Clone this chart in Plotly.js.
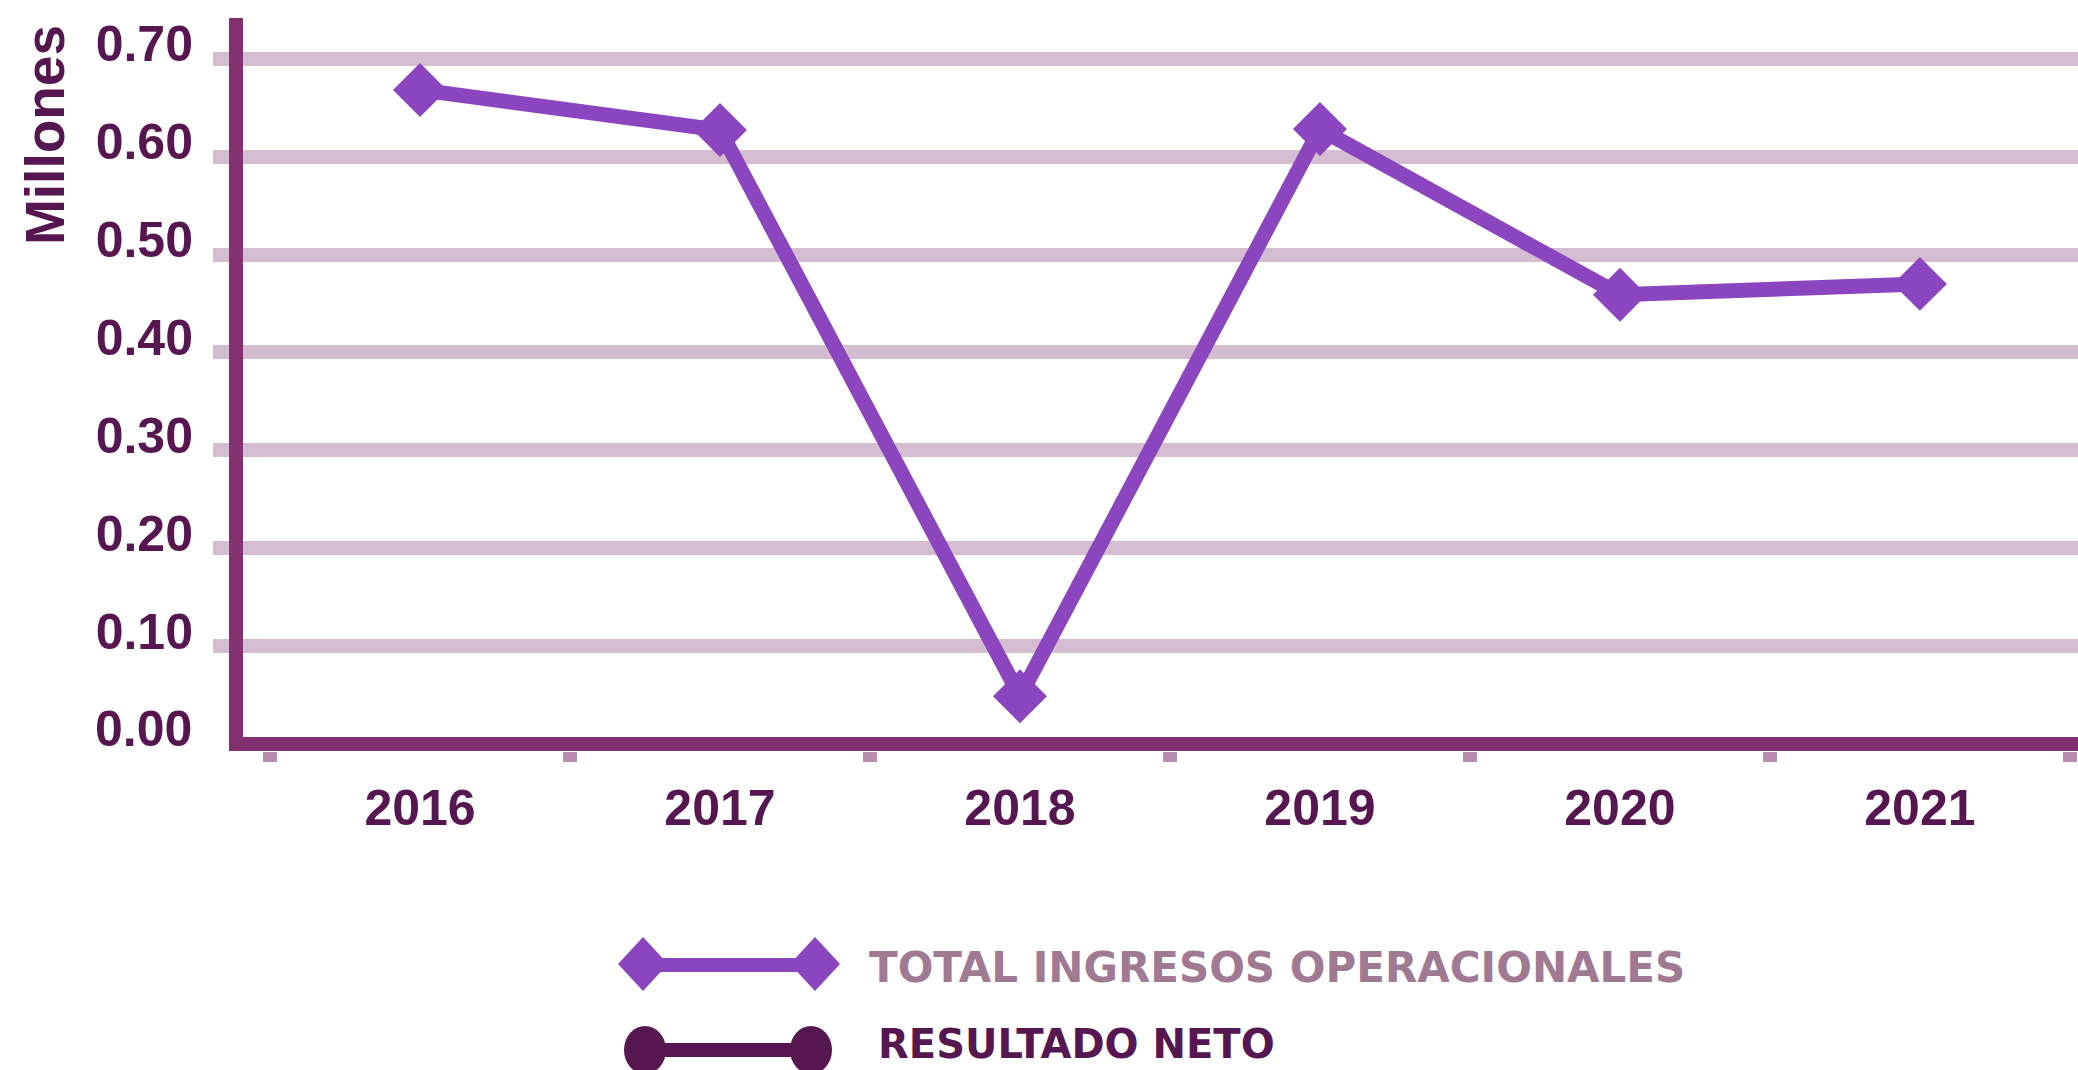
<!DOCTYPE html>
<html>
<head>
<meta charset="utf-8">
<script src="https://cdn.plot.ly/plotly-3.0.1.min.js"></script>
<style>html,body{margin:0;padding:0;background:#fff;}#chart{width:2078px;height:1070px;}</style>
</head>
<body>
<div id="chart"></div>
<script>
// ---- data ----
const years = ['2016', '2017', '2018', '2019', '2020', '2021'];
const totalIngresos = [0.668, 0.627, 0.049, 0.628, 0.459, 0.470];
const seriesNames = ['TOTAL INGRESOS OPERACIONALES', 'RESULTADO NETO'];
const yTickVals = [0.1, 0.2, 0.3, 0.4, 0.5, 0.6, 0.7];
const yTickText = ['0.10', '0.20', '0.30', '0.40', '0.50', '0.60', '0.70'];
const yZeroLabel = '0.00';
const yTitle = 'Millones';

// ---- styling ----
const W = 2078, H = 1070;
const M = {l: 243, r: 0, t: 18, b: 319};
const PW = W - M.l - M.r, PH = H - M.t - M.b;
const px2x = p => (p - M.l) / PW;
const px2y = p => (H - M.b - p) / PH;

const cSeries = '#8b46bf', cNeto = '#56164f', cAxis = '#833070', cGrid = '#d4bdd0',
      cTick = '#b98db0', cLabel = '#56164f', cLegend1 = '#a07a93';
const tickFont = {family: 'Liberation Sans, Arial, sans-serif', size: 50, color: cLabel, weight: 700};
const legFont = {family: 'DejaVu Sans, sans-serif', size: 42, weight: 700};

const traces = [{
  type: 'scatter', mode: 'lines+markers', name: seriesNames[0],
  x: years, y: totalIngresos,
  line: {color: cSeries, width: 15},
  marker: {symbol: 'diamond', size: 41.5, color: cSeries},
  cliponaxis: false, showlegend: false, hoverinfo: 'x+y'
}];

function diamond(cx, cy, hw, hh, color) {
  return {type: 'path', xref: 'paper', yref: 'paper', xsizemode: 'pixel', ysizemode: 'pixel',
    xanchor: px2x(cx), yanchor: px2y(cy),
    path: `M ${-hw} 0 L 0 ${hh} L ${hw} 0 L 0 ${-hh} Z`,
    fillcolor: color, line: {width: 0}, layer: 'above'};
}
function dot(cx, cy, rx, ry, color) {
  return {type: 'circle', xref: 'paper', yref: 'paper', xsizemode: 'pixel', ysizemode: 'pixel',
    xanchor: px2x(cx), yanchor: px2y(cy), x0: -rx, x1: rx, y0: -ry, y1: ry,
    fillcolor: color, line: {width: 0}, layer: 'above'};
}
function seg(x0, x1, y, color) {
  return {type: 'line', xref: 'paper', yref: 'paper', x0: px2x(x0), x1: px2x(x1), y0: px2y(y), y1: px2y(y),
    line: {color: color, width: 14}, layer: 'above'};
}

const shapes = [
  seg(643, 815, 965, cSeries), diamond(643, 964, 25, 27, cSeries), diamond(815, 964, 25, 27, cSeries),
  seg(645, 811, 1050, cNeto), dot(645, 1050, 21, 24, cNeto), dot(811, 1050, 21, 24, cNeto)
];

const annotations = [
  {text: seriesNames[0], xref: 'paper', yref: 'paper', x: px2x(867), y: px2y(967), xanchor: 'left', yanchor: 'middle',
   showarrow: false, font: Object.assign({}, legFont, {color: cLegend1})},
  {text: seriesNames[1], xref: 'paper', yref: 'paper', x: px2x(877), y: px2y(1044), xanchor: 'left', yanchor: 'middle',
   showarrow: false, borderpad: 0, font: Object.assign({}, legFont, {size: 40, color: cNeto})},
  {text: yTitle, xref: 'paper', yref: 'paper', x: px2x(45), y: px2y(135), xanchor: 'center', yanchor: 'middle',
   textangle: -90, showarrow: false, font: {family: 'Liberation Sans, Arial, sans-serif', size: 55, color: cLabel, weight: 700}},
  {text: yZeroLabel, xref: 'paper', yref: 'y', x: px2x(193), y: 0, xanchor: 'right', yanchor: 'middle',
   yshift: 15, showarrow: false, borderpad: 0, font: tickFont}
];

const layout = {
  width: W, height: H, margin: M, paper_bgcolor: '#fff', plot_bgcolor: '#fff',
  showlegend: false,
  xaxis: {type: 'category', range: [-0.59, 5.527], showline: false, showgrid: false, zeroline: false,
    ticks: 'outside', tickson: 'boundaries', ticklen: 10, tickwidth: 14, tickcolor: cTick,
    tickfont: tickFont, ticklabelstandoff: 23, fixedrange: true},
  yaxis: {range: [-0.0068, 0.7414], tickvals: yTickVals, ticktext: yTickText,
    showline: true, linecolor: cAxis, linewidth: 14,
    showgrid: true, gridcolor: cGrid, gridwidth: 14,
    zeroline: true, zerolinecolor: cAxis, zerolinewidth: 14,
    ticks: 'outside', ticklen: 16, tickwidth: 14, tickcolor: cGrid,
    tickfont: tickFont, ticklabelshift: -15, ticklabelstandoff: 10, fixedrange: true},
  shapes: shapes, annotations: annotations
};

Plotly.newPlot('chart', traces, layout, {displayModeBar: false, staticPlot: true});
</script>
</body>
</html>
